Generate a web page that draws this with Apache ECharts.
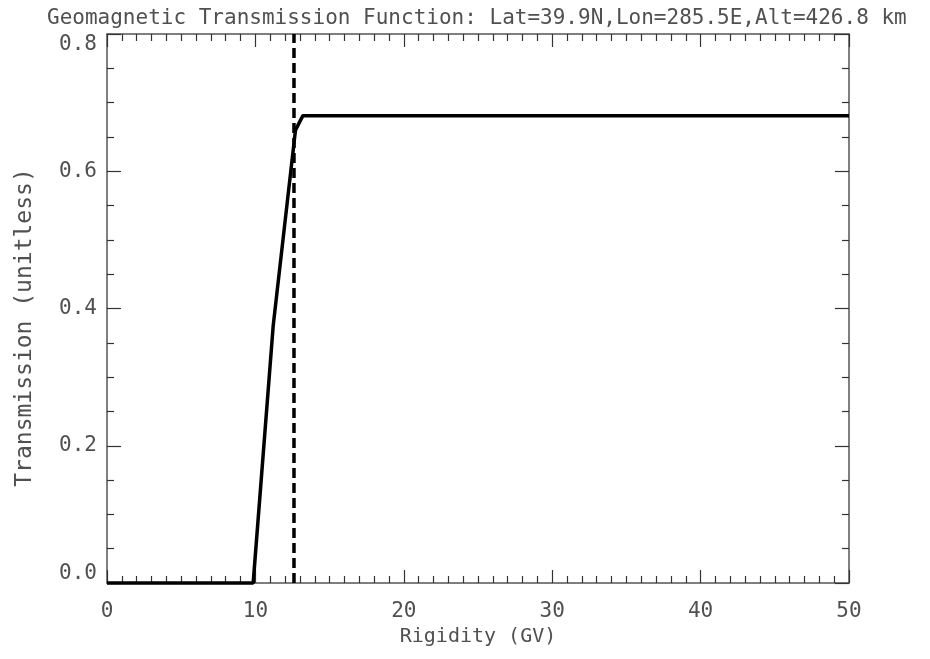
<!DOCTYPE html>
<html>
<head>
<meta charset="utf-8">
<script src="https://cdn.jsdelivr.net/npm/echarts@6/dist/echarts.min.js"></script>
<style>html,body{margin:0;padding:0;background:#fff}#c{width:930px;height:659px}</style>
</head>
<body>
<div id="c"></div>
<script>
// Data
const rigidity = [0, 9.85, 11.2, 12.7, 13.2, 50];
const transmission = [0, 0, 0.375, 0.66, 0.681, 0.681];
const cutoffRigidity = 12.6;
const cutoffY = [0, 0.8];
const titleText = 'Geomagnetic Transmission Function: Lat=39.9N,Lon=285.5E,Alt=426.8 km';
const xName = 'Rigidity (GV)';
const yName = 'Transmission (unitless)';

const font = 'DejaVu Sans Mono';
const txt = '#505050';
const axisCol = '#555';

const chart = echarts.init(document.getElementById('c'), null, {renderer: 'canvas'});

function xAxisCfg(show) {
  return {
    type: 'value', min: 0, max: 50, interval: 10,
    position: show ? 'bottom' : 'top',
    name: show ? xName : '', nameLocation: 'middle', nameGap: 37,
    nameTextStyle: {fontFamily: font, fontSize: 20, color: txt},
    axisLine: {show: true, onZero: false, lineStyle: {color: axisCol, width: 1.5}},
    axisTick: {show: true, inside: true, length: 13, lineStyle: {color: '#333', width: 1.2}},
    minorTick: {show: true, splitNumber: 10, length: 7, lineStyle: {color: '#333', width: 1.2}},
    axisLabel: {show: show, margin: 18, fontFamily: font, fontSize: 21, color: txt},
    splitLine: {show: false}
  };
}
function yAxisCfg(show) {
  return {
    type: 'value', min: 0, max: 0.8, interval: 0.2,
    position: show ? 'left' : 'right',
    name: show ? yName : '', nameLocation: 'middle', nameGap: 70, nameRotate: 90,
    nameTextStyle: {fontFamily: font, fontSize: 23, color: txt, padding: [0, 38, 0, 0]},
    axisLine: {show: true, onZero: false, lineStyle: {color: axisCol, width: 1.5}},
    axisTick: {show: true, inside: true, length: 14, lineStyle: {color: '#333', width: 1.2}},
    minorTick: {show: true, splitNumber: 4, length: 7, lineStyle: {color: '#333', width: 1.2}},
    axisLabel: {
      show: show, margin: 10, fontFamily: font, fontSize: 21, color: txt,
      formatter: v => (Math.abs(v) < 1e-9 ? '{z|0.0}' : (Math.abs(v - 0.8) < 1e-9 ? '{t|0.8}' : v.toFixed(1))),
      rich: {
        z: {fontFamily: font, fontSize: 21, color: txt, padding: [0, 0, 18, 0]},
        t: {fontFamily: font, fontSize: 21, color: txt, padding: [22, 0, 0, 0]}
      }
    },
    splitLine: {show: false}
  };
}

chart.setOption({
  animation: false,
  backgroundColor: '#fff',
  title: {
    text: titleText, left: 42, top: 3,
    textStyle: {fontFamily: font, fontSize: 21, fontWeight: 'normal', color: txt}
  },
  grid: {left: 107, top: 34, right: 81, bottom: 76, containLabel: false},
  xAxis: [xAxisCfg(true), xAxisCfg(false)],
  yAxis: [yAxisCfg(true), yAxisCfg(false)],
  series: [
    {
      type: 'line', xAxisIndex: 0, yAxisIndex: 0,
      data: rigidity.map((r, i) => [r, transmission[i]]),
      showSymbol: false, clip: false,
      lineStyle: {color: '#000', width: 3.5}
    },
    {
      type: 'line', xAxisIndex: 0, yAxisIndex: 0,
      data: cutoffY.map(y => [cutoffRigidity, y]),
      showSymbol: false, clip: false,
      lineStyle: {color: '#000', width: 3.5, type: [10, 5]}
    }
  ]
});
</script>
</body>
</html>
